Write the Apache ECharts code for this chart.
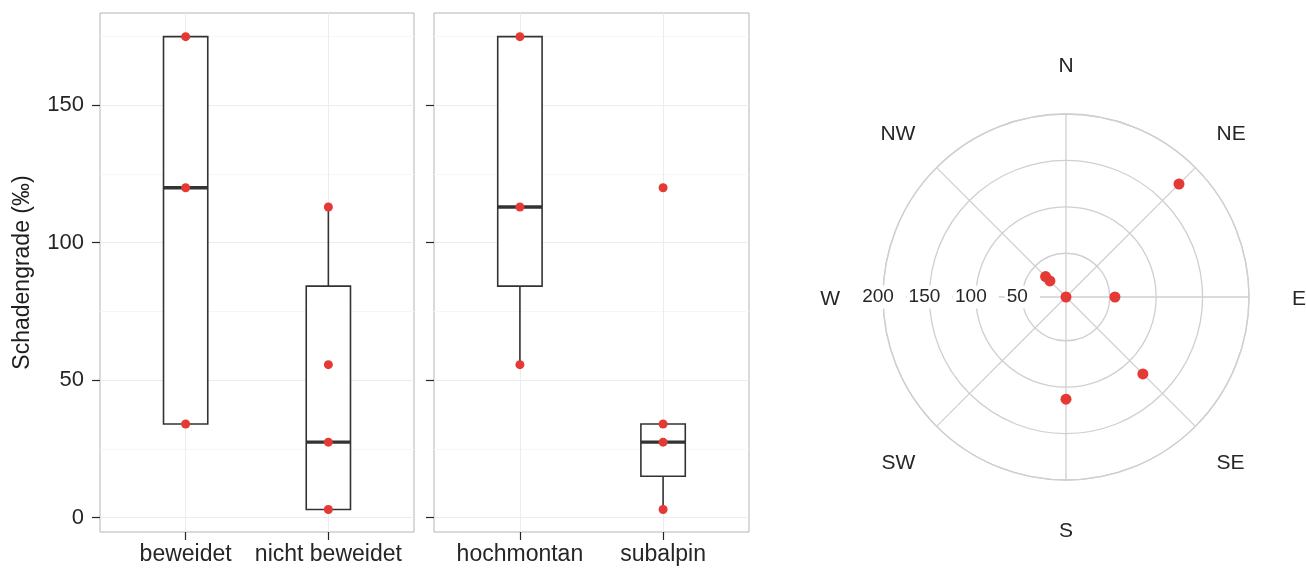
<!DOCTYPE html>
<html>
<head>
<meta charset="utf-8">
<script src="https://cdn.jsdelivr.net/npm/echarts@6/dist/echarts.min.js"></script>
<style>
  html, body { margin: 0; padding: 0; background: #ffffff; }
  #chart { width: 1306px; height: 568px; }
</style>
</head>
<body>
<div id="chart"></div>
<script>
// ---- data: Schadengrade (‰) ----
const nutzungCategories = ['beweidet', 'nicht beweidet'];
const hoehenCategories = ['hochmontan', 'subalpin'];

// box statistics per category: [lower whisker, Q1, median, Q3, upper whisker]
const nutzungBoxes = [
  [34.0, 34.0, 120.0, 175.0, 175.0],
  [2.9, 2.9, 27.4, 84.2, 113.0]
];
const hoehenBoxes = [
  [55.6, 84.2, 113.0, 175.0, 175.0],
  [2.9, 15.0, 27.4, 34.0, 34.0]
];

// single plot values per category
const nutzungPoints = [
  [175.0, 120.0, 34.0],
  [113.0, 55.6, 27.4, 2.9]
];
const hoehenPoints = [
  [175.0, 113.0, 55.6],
  [120.0, 34.0, 27.4, 2.9]
];

const yTicks = [0, 50, 100, 150];
const yMinorGrid = [25, 75, 125, 175];

// exposition of the plots
const compass = ['N', 'NE', 'E', 'SE', 'S', 'SW', 'W', 'NW'];
const plotAspect = ['NE', 'SE', 'NW', 'S', 'E', 'NW', 'N'];
const plotDamage = [175.0, 120.0, 34.0, 113.0, 55.6, 27.4, 2.9];
const radiusTicks = [50, 100, 150, 200];

// ---- styling ----
const FONT = '"Liberation Sans", Arial, Helvetica, sans-serif';
const TEXT = '#262626';
const RED = '#e53935';
const BOX_LINE = '#333333';
const BOX_HALF = 0.155;         // half box width in category units
const Y_MIN = -5.3, Y_MAX = 183.6;
const POLAR_GRID = '#cfcfcf';

// compass direction <-> angle on an axis that starts at W and runs clockwise
const dirToAngle = d => (compass.indexOf(d) * 45 + 90) % 360;
const angleToDir = a => compass[(((a - 90) % 360 + 360) % 360) / 45];

function renderBox(params, api) {
  const x = api.value(0);
  const lo = api.value(1), q1 = api.value(2), med = api.value(3), q3 = api.value(4), hi = api.value(5);
  const tl = api.coord([x - BOX_HALF, q3]);
  const br = api.coord([x + BOX_HALF, q1]);
  const m = api.coord([x, med]);
  const pHi = api.coord([x, hi]);
  const pQ3 = api.coord([x, q3]);
  const pLo = api.coord([x, lo]);
  const pQ1 = api.coord([x, q1]);
  const line = { stroke: BOX_LINE, lineWidth: 1.6 };
  return {
    type: 'group',
    children: [
      { type: 'line', shape: { x1: pQ3[0], y1: pQ3[1], x2: pHi[0], y2: pHi[1] }, style: line },
      { type: 'line', shape: { x1: pQ1[0], y1: pQ1[1], x2: pLo[0], y2: pLo[1] }, style: line },
      { type: 'rect', shape: { x: tl[0], y: tl[1], width: br[0] - tl[0], height: br[1] - tl[1] },
        style: { fill: '#ffffff', stroke: BOX_LINE, lineWidth: 1.6 } },
      { type: 'line', shape: { x1: tl[0], y1: m[1], x2: br[0], y2: m[1] },
        style: { stroke: BOX_LINE, lineWidth: 3.4 } }
    ]
  };
}

function boxData(boxes) {
  return boxes.map((b, i) => [i + 1].concat(b));
}
function pointData(points) {
  const out = [];
  points.forEach((vals, i) => vals.forEach(v => out.push([i + 1, v])));
  return out;
}

function xAxisFor(gridIndex, cats) {
  return {
    gridIndex, type: 'value', min: 0.4, max: 2.6, position: 'bottom',
    axisLine: { show: false, onZero: false },
    axisTick: { show: true, customValues: [1, 2], length: 8, lineStyle: { color: TEXT, width: 1.2 } },
    axisLabel: { customValues: [1, 2], formatter: v => cats[Math.round(v) - 1], margin: 11,
                 fontSize: 23, color: TEXT, fontFamily: FONT },
    splitLine: { show: false }
  };
}
function yAxisFor(gridIndex, showLabels) {
  return {
    gridIndex, type: 'value', min: Y_MIN, max: Y_MAX, position: 'left',
    name: showLabels ? 'Schadengrade (‰)' : '',
    nameLocation: 'middle', nameGap: 66,
    nameTextStyle: { fontSize: 23, color: '#1e1e1e', fontFamily: FONT },
    axisLine: { show: false, onZero: false },
    axisTick: { show: true, customValues: yTicks, length: 8, lineStyle: { color: TEXT, width: 1.2 } },
    axisLabel: { show: showLabels, customValues: yTicks, margin: 16, fontSize: 22, color: TEXT, fontFamily: FONT },
    splitLine: { show: false }
  };
}
function gridLines(xi) {
  const major = yTicks.map(v => ({ yAxis: v, lineStyle: { color: '#ececec', width: 1, type: 'solid' } }));
  const minor = yMinorGrid.map(v => ({ yAxis: v, lineStyle: { color: '#f6f6f6', width: 1, type: 'solid' } }));
  const vert = [1, 2].map(v => ({ xAxis: v, lineStyle: { color: '#ececec', width: 1, type: 'solid' } }));
  return {
    type: 'line', xAxisIndex: xi, yAxisIndex: xi, data: [], silent: true, z: 1,
    markLine: { silent: true, symbol: ['none', 'none'], label: { show: false }, z: 1,
                animation: false, data: minor.concat(major, vert) }
  };
}

// rich style key for each direction label: cardinal, upper diagonal, lower diagonal
function dirStyleKey(d) {
  if (d.length === 1) return 'c';
  return d.charAt(0) === 'N' ? 'u' : 'l';
}

const radiusMin = Math.min.apply(null, plotDamage);
const dotStyle = { color: RED, opacity: 1 };
const dirText = { fontSize: 21, color: TEXT, fontFamily: FONT };

const option = {
  animation: false,
  backgroundColor: '#ffffff',
  textStyle: { fontFamily: FONT },
  grid: [
    { left: 100, top: 13, width: 314, height: 519, show: true, borderColor: '#b4b4b4', borderWidth: 1, backgroundColor: '#ffffff' },
    { left: 434, top: 13, width: 315, height: 519, show: true, borderColor: '#b4b4b4', borderWidth: 1, backgroundColor: '#ffffff' }
  ],
  xAxis: [xAxisFor(0, nutzungCategories), xAxisFor(1, hoehenCategories)],
  yAxis: [yAxisFor(0, true), yAxisFor(1, false)],
  polar: { center: [1066, 297], radius: 183 },
  angleAxis: {
    type: 'value', min: 0, max: 360, interval: 45, startAngle: 180, clockwise: true,
    axisLine: { show: true, lineStyle: { color: POLAR_GRID, width: 1.3 } },
    axisTick: { show: false },
    splitLine: { show: true, lineStyle: { color: POLAR_GRID, width: 1.3 } },
    axisLabel: {
      margin: 30, fontSize: 21, color: TEXT, fontFamily: FONT,
      formatter: v => {
        const d = angleToDir(v);
        return '{' + dirStyleKey(d) + '|' + d + '}';
      },
      rich: {
        c: Object.assign({ padding: [11, 13, 7, 13] }, dirText),
        u: Object.assign({ padding: [0, 0, 2, 0] }, dirText),
        l: Object.assign({ padding: [5, 0, 0, 0] }, dirText)
      }
    }
  },
  radiusAxis: {
    type: 'value', min: radiusMin, max: 200, splitNumber: 4, z: 3,
    axisLine: { show: false },
    axisTick: { show: false },
    splitLine: { show: true, lineStyle: { color: POLAR_GRID, width: 1.3 } },
    axisLabel: {
      customValues: radiusTicks, align: 'center', verticalAlign: 'middle', margin: 0,
      backgroundColor: '#ffffff', padding: [2, 12, 2, 2],
      fontSize: 19, color: TEXT, fontFamily: FONT
    }
  },
  series: [
    gridLines(0),
    gridLines(1),
    { type: 'custom', xAxisIndex: 0, yAxisIndex: 0, renderItem: renderBox, data: boxData(nutzungBoxes),
      encode: { x: 0, y: [1, 2, 3, 4, 5] }, z: 3, silent: true },
    { type: 'custom', xAxisIndex: 1, yAxisIndex: 1, renderItem: renderBox, data: boxData(hoehenBoxes),
      encode: { x: 0, y: [1, 2, 3, 4, 5] }, z: 3, silent: true },
    { type: 'scatter', xAxisIndex: 0, yAxisIndex: 0, data: pointData(nutzungPoints),
      symbolSize: 9, itemStyle: dotStyle, z: 5 },
    { type: 'scatter', xAxisIndex: 1, yAxisIndex: 1, data: pointData(hoehenPoints),
      symbolSize: 9, itemStyle: dotStyle, z: 5 },
    { type: 'scatter', coordinateSystem: 'polar',
      data: plotDamage.map((v, i) => [v, dirToAngle(plotAspect[i])]),
      symbolSize: 11, itemStyle: dotStyle, z: 5 }
  ]
};

const chart = echarts.init(document.getElementById('chart'), null, { renderer: 'canvas' });
chart.setOption(option);
</script>
</body>
</html>
